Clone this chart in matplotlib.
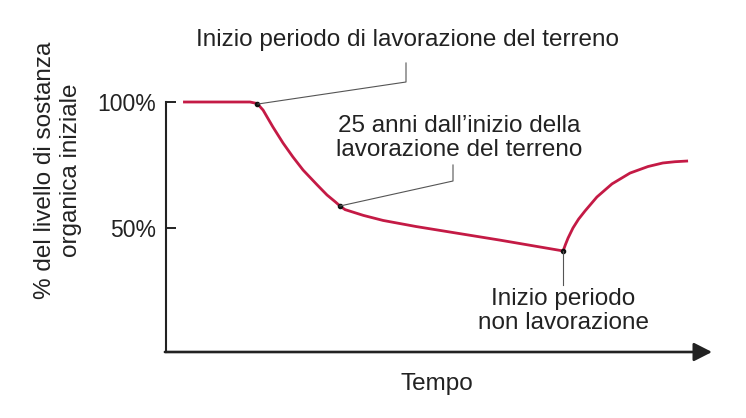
import numpy as np
import matplotlib
matplotlib.use("Agg")
import matplotlib.pyplot as plt

# time (years from the start of the curve) and % of initial organic matter
tempo = [0, 20.4, 22.6, 24.4, 27.4, 30.5, 33.5, 36.6, 40.9, 43.9, 46.5, 47.9, 49.4,
         55.0, 61.0, 71.0, 81.4, 96.6, 115.9, 116.6, 117.4, 118.9, 120.6, 122.6,
         126.2, 130.8, 136.3, 141.8, 146.3, 150.0, 154.0]
sostanza = [100, 100, 99.4, 96.8, 90.1, 83.7, 78.2, 73.0, 67.1, 63.1, 60.3, 58.7, 57.3,
            55.0, 53.0, 50.6, 48.4, 45.2, 40.9, 43.4, 46.0, 50.0, 53.5, 56.8,
            62.3, 67.5, 71.8, 74.4, 75.8, 76.3, 76.6]

# marked points: start of tillage, 25 years later, start of no-till
punti_t = [22.6, 47.9, 115.9]
punti_s = [99.4, 58.7, 40.9]

y_ticks = [100, 50]
y_tick_labels = ["100%", "50%"]

plt.rcParams['font.family'] = ['Liberation Sans', 'DejaVu Sans']

W, H = 746, 418
fig = plt.figure(figsize=(W / 100, H / 100), dpi=100)

def px(x, y):
    return (x / W, 1 - y / H)

l, r, top, bot = 166, 712, 102, 352
ax = fig.add_axes([l / W, 1 - bot / H, (r - l) / W, (bot - top) / H])
ax.set_xlim(-5.2, 161.3)
ax.set_ylim(0.8, 100)

red = "#c41a45"
ink = "#222222"
ax.plot(tempo, sostanza, color=red, lw=2.0, clip_on=False, solid_capstyle='butt',
        solid_joinstyle='round', zorder=3)
ax.scatter(punti_t, punti_s, s=9, color="#111111", zorder=4, clip_on=False)

for s in ["top", "right", "bottom"]:
    ax.spines[s].set_visible(False)
ax.spines["left"].set_color(ink)
ax.spines["left"].set_linewidth(1.5)
ax.annotate("", xy=(1, 0), xytext=(-0.002, 0), xycoords="axes fraction",
            arrowprops=dict(arrowstyle="-|>,head_length=0.55,head_width=0.28",
                            lw=1.9, color=ink, mutation_scale=20, shrinkA=0, shrinkB=0))

ax.set_xticks([])
ax.set_yticks(y_ticks)
ax.set_yticklabels(y_tick_labels, fontsize=16.5, color=ink)
ax.tick_params(axis="y", direction="in", length=7, width=1.4, color=ink, pad=7)

tcol = "#222222"
fs = 17.5
lc = "#555555"
lw = 0.8

# annotations and leader lines in figure pixel coordinates
fig.text(*px(407, 40), "Inizio periodo di lavorazione del terreno", ha="center", va="center",
         fontsize=fs, color=tcol)
fig.add_artist(plt.Line2D([258 / W, 406 / W, 406 / W], [1 - 104 / H, 1 - 82 / H, 1 - 63 / H],
                          color=lc, lw=lw))

fig.text(*px(459, 138), "25 anni dall\u2019inizio della\nlavorazione del terreno",
         ha="center", va="center", fontsize=fs, color=tcol, linespacing=1.12)
fig.add_artist(plt.Line2D([340 / W, 453 / W, 453 / W], [1 - 206 / H, 1 - 181 / H, 1 - 165 / H],
                          color=lc, lw=lw))

fig.text(*px(563, 311), "Inizio periodo\nnon lavorazione", ha="center", va="center",
         fontsize=fs, color=tcol, linespacing=1.12)
fig.add_artist(plt.Line2D([563 / W, 563 / W], [1 - 251 / H, 1 - 285 / H], color=lc, lw=lw))

fig.text(*px(437, 384), "Tempo", ha="center", va="center", fontsize=fs, color=tcol)
fig.text(*px(58, 170), "% del livello di sostanza\norganica iniziale", ha="center", va="center",
         rotation=90, fontsize=fs, color=tcol, linespacing=1.25)

fig.savefig("out.png", dpi=100)
